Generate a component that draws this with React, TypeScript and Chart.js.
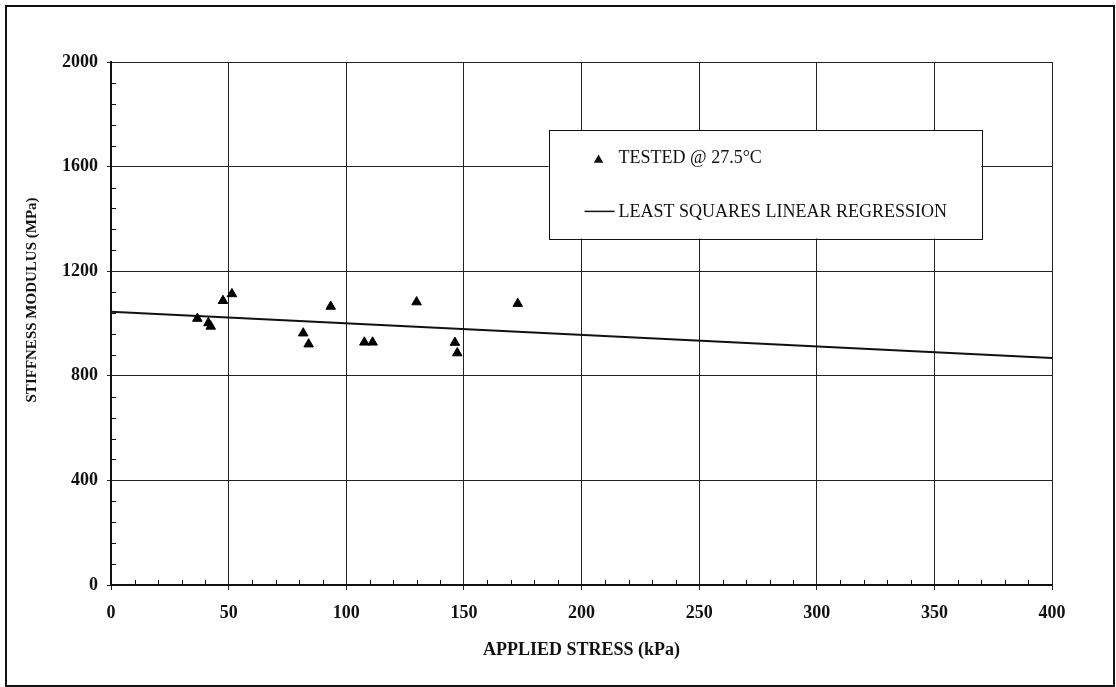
import React, { useEffect, useRef } from "react";
import { Chart, registerables } from "chart.js";

Chart.register(...registerables);

const stressKPa = [36.7, 41.4, 42.4, 47.6, 51.4, 81.7, 84.0, 93.4, 107.7, 111.2, 129.9, 146.2, 147.2, 172.9];
const modulusMPa = [1019, 1002, 989, 1087, 1113, 963, 921, 1065, 928, 928, 1082, 927, 887, 1076];
const regressionX = [0, 400];
const regressionY = [1045, 868];
const xTicks = [0, 50, 100, 150, 200, 250, 300, 350, 400];
const yTicks = [0, 400, 800, 1200, 1600, 2000];
const xMinorStep = 10;
const yMinorStep = 80;
const seriesLabels = ["TESTED @ 27.5°C", "LEAST SQUARES LINEAR REGRESSION"];
const xTitle = "APPLIED STRESS (kPa)";
const yTitle = "STIFFNESS MODULUS (MPa)";

const SERIF = "'Liberation Serif', 'DejaVu Serif', serif";

const minorTicksPlugin = {
  id: "minorTicks",
  afterDatasetsDraw(chart: any) {
    const { ctx, scales } = chart;
    const xs = scales.x;
    const ys = scales.y;
    ctx.save();
    ctx.strokeStyle = "#111";
    ctx.lineWidth = 1;
    ctx.beginPath();
    for (let v = xs.min + xMinorStep; v < xs.max; v += xMinorStep) {
      if (xTicks.includes(v)) continue;
      const px = Math.round(xs.getPixelForValue(v)) + 0.5;
      ctx.moveTo(px, ys.bottom);
      ctx.lineTo(px, ys.bottom - 5);
    }
    for (let v = ys.min + yMinorStep; v < ys.max; v += yMinorStep) {
      if (yTicks.includes(v)) continue;
      const py = Math.round(ys.getPixelForValue(v)) + 0.5;
      ctx.moveTo(xs.left, py);
      ctx.lineTo(xs.left + 5, py);
    }
    ctx.stroke();
    ctx.restore();
  },
};

const yTitlePlugin = {
  id: "yTitle",
  afterDraw(chart: any) {
    const { ctx, chartArea, scales } = chart;
    const x = scales.y.left + 32;
    const y = chartArea.top + (chartArea.bottom - chartArea.top) * 0.455;
    ctx.save();
    ctx.translate(x, y);
    ctx.rotate(-Math.PI / 2);
    ctx.font = `bold 15px ${SERIF}`;
    ctx.fillStyle = "#111";
    ctx.textAlign = "center";
    ctx.textBaseline = "middle";
    ctx.fillText(yTitle, 0, 0);
    ctx.restore();
  },
};

const legendBoxPlugin = {
  id: "legendBox",
  afterDatasetsDraw(chart: any) {
    const { ctx, scales } = chart;
    const xs = scales.x;
    const ys = scales.y;
    const left = xs.getPixelForValue(186);
    const right = xs.getPixelForValue(370);
    const top = ys.getPixelForValue(1740);
    const bottom = ys.getPixelForValue(1325);
    ctx.save();
    ctx.fillStyle = "#fff";
    ctx.fillRect(left, top, right - left, bottom - top);
    ctx.strokeStyle = "#111";
    ctx.lineWidth = 1;
    ctx.strokeRect(Math.round(left) + 0.5, Math.round(top) + 0.5, Math.round(right - left), Math.round(bottom - top));
    const h = bottom - top;
    const y1 = top + h * 0.25;
    const y2 = top + h * 0.75;
    const textX = left + 70;
    ctx.font = `18px ${SERIF}`;
    ctx.fillStyle = "#111";
    ctx.textBaseline = "middle";
    ctx.textAlign = "left";
    ctx.fillText(chart.data.datasets[0].label, textX, y1 + 1);
    ctx.fillText(chart.data.datasets[1].label, textX, y2 + 1);
    const r = 5.5;
    const cx = left + 50;
    const cy = y1 + 3;
    ctx.beginPath();
    ctx.moveTo(cx, cy - r);
    ctx.lineTo(cx + r * 0.866, cy + r * 0.5);
    ctx.lineTo(cx - r * 0.866, cy + r * 0.5);
    ctx.closePath();
    ctx.fill();
    ctx.beginPath();
    ctx.lineWidth = 1.5;
    ctx.moveTo(left + 36, y2);
    ctx.lineTo(left + 66, y2);
    ctx.stroke();
    ctx.restore();
  },
};

export default function App() {
  const ref = useRef<HTMLCanvasElement | null>(null);

  useEffect(() => {
    if (!ref.current) return;
    const chart = new Chart(ref.current, {
      type: "scatter",
      data: {
        datasets: [
          {
            label: seriesLabels[0],
            data: stressKPa.map((x, i) => ({ x, y: modulusMPa[i] })),
            pointStyle: "triangle",
            pointRadius: 5.5,
            pointBackgroundColor: "#000",
            pointBorderColor: "#000",
            pointBorderWidth: 1,
            showLine: false,
            order: 1,
          },
          {
            label: seriesLabels[1],
            data: regressionX.map((x, i) => ({ x, y: regressionY[i] })),
            showLine: true,
            borderColor: "#111",
            borderWidth: 2,
            pointRadius: 0,
            fill: false,
            order: 2,
          },
        ],
      },
      options: {
        responsive: false,
        animation: false,
        layout: { padding: { left: 0, top: 62, right: 64, bottom: 0 } },
        plugins: {
          legend: { display: false },
          tooltip: { enabled: false },
        },
        scales: {
          x: {
            type: "linear",
            min: 0,
            max: 400,
            afterBuildTicks: (axis: any) => {
              axis.ticks = xTicks.map((v) => ({ value: v }));
            },
            afterFit: (axis: any) => {
              axis.height = 102;
            },
            ticks: {
              color: "#111",
              font: { family: SERIF, size: 18, weight: "bold" },
              padding: 13,
              maxRotation: 0,
              callback: (v: any) => String(v),
            },
            grid: { color: "#222", lineWidth: 1, tickLength: 5 },
            border: { color: "#111", width: 2 },
            title: {
              display: true,
              text: xTitle,
              color: "#111",
              font: { family: SERIF, size: 18, weight: "bold" },
              padding: { top: 0, bottom: 26 },
            },
          },
          y: {
            type: "linear",
            min: 0,
            max: 2000,
            afterBuildTicks: (axis: any) => {
              axis.ticks = yTicks.map((v) => ({ value: v }));
            },
            afterFit: (axis: any) => {
              axis.width = 111;
            },
            ticks: {
              color: "#111",
              font: { family: SERIF, size: 18, weight: "bold" },
              padding: 9,
              callback: (v: any) => String(v),
            },
            grid: { color: "#222", lineWidth: 1, tickLength: 4 },
            border: { color: "#111", width: 2 },
            title: { display: false },
          },
        },
      },
      plugins: [minorTicksPlugin, legendBoxPlugin, yTitlePlugin],
    } as any);
    return () => chart.destroy();
  }, []);

  return (
    <div style={{ position: "fixed", left: 0, top: 0, width: 1116, height: 687, background: "#fff" }}>
      <div
        style={{
          position: "absolute",
          left: 5,
          top: 5,
          width: 1106,
          height: 678,
          border: "2px solid #111",
          pointerEvents: "none",
        }}
      />
      <canvas ref={ref} width={1116} height={687} style={{ position: "absolute", left: 0, top: 0 }} />
    </div>
  );
}
